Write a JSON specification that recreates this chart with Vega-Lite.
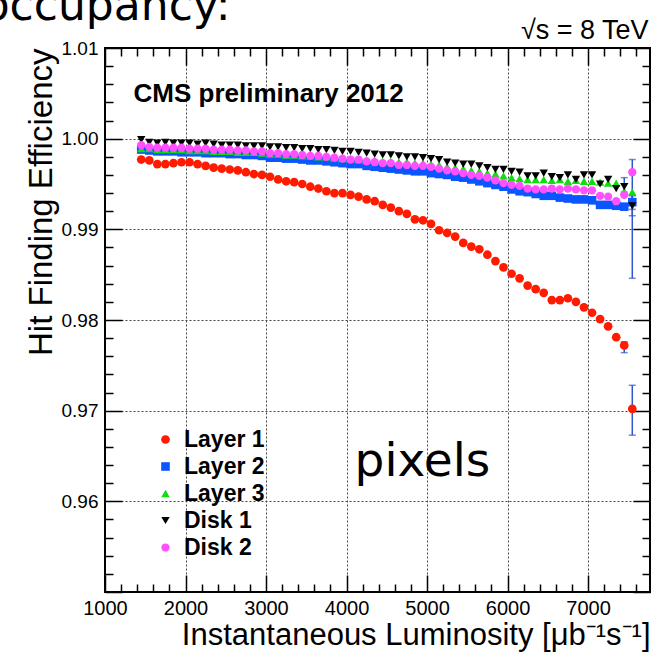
{
  "$schema": "https://vega.github.io/schema/vega-lite/v6.json",
  "width": 545,
  "height": 544,
  "autosize": {"type": "none"},
  "padding": {"left": 105, "top": 48, "right": 6, "bottom": 62},
  "background": "white",
  "config": {
    "view": {"stroke": "black", "strokeWidth": 2},
    "font": "Liberation Sans",
    "axis": {"domain": false, "tickColor": "black", "tickWidth": 1.5, "labelColor": "black", "titleColor": "black", "labelFont": "Liberation Sans", "titleFont": "Liberation Sans"}
  },
  "datasets": {
    "eff": [
      {"s":"Layer 1","x":1450,"e":0.9977},{"s":"Layer 1","x":1550,"e":0.9976},{"s":"Layer 1","x":1650,"e":0.9972},{"s":"Layer 1","x":1750,"e":0.9972},{"s":"Layer 1","x":1850,"e":0.9973},{"s":"Layer 1","x":1950,"e":0.9974},{"s":"Layer 1","x":2050,"e":0.9974},{"s":"Layer 1","x":2150,"e":0.9972},{"s":"Layer 1","x":2250,"e":0.9970},{"s":"Layer 1","x":2350,"e":0.9968},
      {"s":"Layer 1","x":2450,"e":0.9967},{"s":"Layer 1","x":2550,"e":0.9966},{"s":"Layer 1","x":2650,"e":0.9965},{"s":"Layer 1","x":2750,"e":0.9963},{"s":"Layer 1","x":2850,"e":0.9961},{"s":"Layer 1","x":2950,"e":0.9960},{"s":"Layer 1","x":3050,"e":0.9958},{"s":"Layer 1","x":3150,"e":0.9955},{"s":"Layer 1","x":3250,"e":0.9953},{"s":"Layer 1","x":3350,"e":0.9952},
      {"s":"Layer 1","x":3450,"e":0.9950},{"s":"Layer 1","x":3550,"e":0.9947},{"s":"Layer 1","x":3650,"e":0.9945},{"s":"Layer 1","x":3750,"e":0.9942},{"s":"Layer 1","x":3850,"e":0.9940},{"s":"Layer 1","x":3950,"e":0.9940},{"s":"Layer 1","x":4050,"e":0.9938},{"s":"Layer 1","x":4150,"e":0.9936},{"s":"Layer 1","x":4250,"e":0.9933},{"s":"Layer 1","x":4350,"e":0.9931},
      {"s":"Layer 1","x":4450,"e":0.9927},{"s":"Layer 1","x":4550,"e":0.9924},{"s":"Layer 1","x":4650,"e":0.9920},{"s":"Layer 1","x":4750,"e":0.9917},{"s":"Layer 1","x":4850,"e":0.9911},{"s":"Layer 1","x":4950,"e":0.9910},{"s":"Layer 1","x":5050,"e":0.9906},{"s":"Layer 1","x":5150,"e":0.9899},{"s":"Layer 1","x":5250,"e":0.9896},{"s":"Layer 1","x":5350,"e":0.9892},
      {"s":"Layer 1","x":5450,"e":0.9885},{"s":"Layer 1","x":5550,"e":0.9881},{"s":"Layer 1","x":5650,"e":0.9878},{"s":"Layer 1","x":5750,"e":0.9872},{"s":"Layer 1","x":5850,"e":0.9865},{"s":"Layer 1","x":5950,"e":0.9858},{"s":"Layer 1","x":6050,"e":0.9851},{"s":"Layer 1","x":6150,"e":0.9846},{"s":"Layer 1","x":6250,"e":0.9838},{"s":"Layer 1","x":6350,"e":0.9834},
      {"s":"Layer 1","x":6450,"e":0.9830},{"s":"Layer 1","x":6550,"e":0.9822},{"s":"Layer 1","x":6650,"e":0.9822},{"s":"Layer 1","x":6750,"e":0.9824},{"s":"Layer 1","x":6850,"e":0.9820},{"s":"Layer 1","x":6950,"e":0.9814},{"s":"Layer 1","x":7050,"e":0.9808},{"s":"Layer 1","x":7150,"e":0.9801},{"s":"Layer 1","x":7250,"e":0.9793},{"s":"Layer 1","x":7350,"e":0.9781},
      {"s":"Layer 1","x":7450,"e":0.9772},{"s":"Layer 1","x":7550,"e":0.9702},

      {"s":"Layer 2","x":1450,"e":0.9988},{"s":"Layer 2","x":1550,"e":0.9987},{"s":"Layer 2","x":1650,"e":0.9986},{"s":"Layer 2","x":1750,"e":0.9986},{"s":"Layer 2","x":1850,"e":0.9986},{"s":"Layer 2","x":1950,"e":0.9985},{"s":"Layer 2","x":2050,"e":0.9985},{"s":"Layer 2","x":2150,"e":0.9985},{"s":"Layer 2","x":2250,"e":0.9984},{"s":"Layer 2","x":2350,"e":0.9984},
      {"s":"Layer 2","x":2450,"e":0.9984},{"s":"Layer 2","x":2550,"e":0.9983},{"s":"Layer 2","x":2650,"e":0.9983},{"s":"Layer 2","x":2750,"e":0.9982},{"s":"Layer 2","x":2850,"e":0.9982},{"s":"Layer 2","x":2950,"e":0.9981},{"s":"Layer 2","x":3050,"e":0.9979},{"s":"Layer 2","x":3150,"e":0.9979},{"s":"Layer 2","x":3250,"e":0.9978},{"s":"Layer 2","x":3350,"e":0.9978},
      {"s":"Layer 2","x":3450,"e":0.9977},{"s":"Layer 2","x":3550,"e":0.9976},{"s":"Layer 2","x":3650,"e":0.9976},{"s":"Layer 2","x":3750,"e":0.9975},{"s":"Layer 2","x":3850,"e":0.9974},{"s":"Layer 2","x":3950,"e":0.9973},{"s":"Layer 2","x":4050,"e":0.9972},{"s":"Layer 2","x":4150,"e":0.9972},{"s":"Layer 2","x":4250,"e":0.9970},{"s":"Layer 2","x":4350,"e":0.9969},
      {"s":"Layer 2","x":4450,"e":0.9968},{"s":"Layer 2","x":4550,"e":0.9967},{"s":"Layer 2","x":4650,"e":0.9966},{"s":"Layer 2","x":4750,"e":0.9965},{"s":"Layer 2","x":4850,"e":0.9964},{"s":"Layer 2","x":4950,"e":0.9964},{"s":"Layer 2","x":5050,"e":0.9962},{"s":"Layer 2","x":5150,"e":0.9961},{"s":"Layer 2","x":5250,"e":0.9960},{"s":"Layer 2","x":5350,"e":0.9958},
      {"s":"Layer 2","x":5450,"e":0.9957},{"s":"Layer 2","x":5550,"e":0.9955},{"s":"Layer 2","x":5650,"e":0.9953},{"s":"Layer 2","x":5750,"e":0.9951},{"s":"Layer 2","x":5850,"e":0.9949},{"s":"Layer 2","x":5950,"e":0.9947},{"s":"Layer 2","x":6050,"e":0.9944},{"s":"Layer 2","x":6150,"e":0.9942},{"s":"Layer 2","x":6250,"e":0.9941},{"s":"Layer 2","x":6350,"e":0.9939},
      {"s":"Layer 2","x":6450,"e":0.9937},{"s":"Layer 2","x":6550,"e":0.9937},{"s":"Layer 2","x":6650,"e":0.9935},{"s":"Layer 2","x":6750,"e":0.9934},{"s":"Layer 2","x":6850,"e":0.9933},{"s":"Layer 2","x":6950,"e":0.9933},{"s":"Layer 2","x":7050,"e":0.9932},{"s":"Layer 2","x":7150,"e":0.9927},{"s":"Layer 2","x":7250,"e":0.9927},{"s":"Layer 2","x":7350,"e":0.9926},
      {"s":"Layer 2","x":7450,"e":0.9925},{"s":"Layer 2","x":7550,"e":0.9930},

      {"s":"Layer 3","x":1450,"e":0.9989},{"s":"Layer 3","x":1550,"e":0.9989},{"s":"Layer 3","x":1650,"e":0.9988},{"s":"Layer 3","x":1750,"e":0.9988},{"s":"Layer 3","x":1850,"e":0.9988},{"s":"Layer 3","x":1950,"e":0.9988},{"s":"Layer 3","x":2050,"e":0.9987},{"s":"Layer 3","x":2150,"e":0.9987},{"s":"Layer 3","x":2250,"e":0.9987},{"s":"Layer 3","x":2350,"e":0.9986},
      {"s":"Layer 3","x":2450,"e":0.9986},{"s":"Layer 3","x":2550,"e":0.9986},{"s":"Layer 3","x":2650,"e":0.9985},{"s":"Layer 3","x":2750,"e":0.9985},{"s":"Layer 3","x":2850,"e":0.9985},{"s":"Layer 3","x":2950,"e":0.9984},{"s":"Layer 3","x":3050,"e":0.9983},{"s":"Layer 3","x":3150,"e":0.9983},{"s":"Layer 3","x":3250,"e":0.9982},{"s":"Layer 3","x":3350,"e":0.9982},
      {"s":"Layer 3","x":3450,"e":0.9981},{"s":"Layer 3","x":3550,"e":0.9981},{"s":"Layer 3","x":3650,"e":0.9980},{"s":"Layer 3","x":3750,"e":0.9980},{"s":"Layer 3","x":3850,"e":0.9979},{"s":"Layer 3","x":3950,"e":0.9978},{"s":"Layer 3","x":4050,"e":0.9978},{"s":"Layer 3","x":4150,"e":0.9977},{"s":"Layer 3","x":4250,"e":0.9976},{"s":"Layer 3","x":4350,"e":0.9976},
      {"s":"Layer 3","x":4450,"e":0.9975},{"s":"Layer 3","x":4550,"e":0.9975},{"s":"Layer 3","x":4650,"e":0.9974},{"s":"Layer 3","x":4750,"e":0.9974},{"s":"Layer 3","x":4850,"e":0.9973},{"s":"Layer 3","x":4950,"e":0.9973},{"s":"Layer 3","x":5050,"e":0.9972},{"s":"Layer 3","x":5150,"e":0.9971},{"s":"Layer 3","x":5250,"e":0.9969},{"s":"Layer 3","x":5350,"e":0.9968},
      {"s":"Layer 3","x":5450,"e":0.9967},{"s":"Layer 3","x":5550,"e":0.9965},{"s":"Layer 3","x":5650,"e":0.9964},{"s":"Layer 3","x":5750,"e":0.9962},{"s":"Layer 3","x":5850,"e":0.9961},{"s":"Layer 3","x":5950,"e":0.9959},{"s":"Layer 3","x":6050,"e":0.9957},{"s":"Layer 3","x":6150,"e":0.9956},{"s":"Layer 3","x":6250,"e":0.9955},{"s":"Layer 3","x":6350,"e":0.9955},
      {"s":"Layer 3","x":6450,"e":0.9955},{"s":"Layer 3","x":6550,"e":0.9954},{"s":"Layer 3","x":6650,"e":0.9955},{"s":"Layer 3","x":6750,"e":0.9953},{"s":"Layer 3","x":6850,"e":0.9954},{"s":"Layer 3","x":6950,"e":0.9953},{"s":"Layer 3","x":7050,"e":0.9953},{"s":"Layer 3","x":7150,"e":0.9952},{"s":"Layer 3","x":7250,"e":0.9951},{"s":"Layer 3","x":7350,"e":0.9951},
      {"s":"Layer 3","x":7450,"e":0.9942},{"s":"Layer 3","x":7550,"e":0.9941},

      {"s":"Disk 1","x":1450,"e":0.9999},{"s":"Disk 1","x":1550,"e":0.9996},{"s":"Disk 1","x":1650,"e":0.9995},{"s":"Disk 1","x":1750,"e":0.9996},{"s":"Disk 1","x":1850,"e":0.9995},{"s":"Disk 1","x":1950,"e":0.9995},{"s":"Disk 1","x":2050,"e":0.9995},{"s":"Disk 1","x":2150,"e":0.9994},{"s":"Disk 1","x":2250,"e":0.9995},{"s":"Disk 1","x":2350,"e":0.9994},
      {"s":"Disk 1","x":2450,"e":0.9993},{"s":"Disk 1","x":2550,"e":0.9993},{"s":"Disk 1","x":2650,"e":0.9993},{"s":"Disk 1","x":2750,"e":0.9992},{"s":"Disk 1","x":2850,"e":0.9992},{"s":"Disk 1","x":2950,"e":0.9992},{"s":"Disk 1","x":3050,"e":0.9991},{"s":"Disk 1","x":3150,"e":0.9991},{"s":"Disk 1","x":3250,"e":0.9990},{"s":"Disk 1","x":3350,"e":0.9990},
      {"s":"Disk 1","x":3450,"e":0.9989},{"s":"Disk 1","x":3550,"e":0.9989},{"s":"Disk 1","x":3650,"e":0.9988},{"s":"Disk 1","x":3750,"e":0.9988},{"s":"Disk 1","x":3850,"e":0.9987},{"s":"Disk 1","x":3950,"e":0.9986},{"s":"Disk 1","x":4050,"e":0.9986},{"s":"Disk 1","x":4150,"e":0.9985},{"s":"Disk 1","x":4250,"e":0.9984},{"s":"Disk 1","x":4350,"e":0.9983},
      {"s":"Disk 1","x":4450,"e":0.9982},{"s":"Disk 1","x":4550,"e":0.9982},{"s":"Disk 1","x":4650,"e":0.9981},{"s":"Disk 1","x":4750,"e":0.9980},{"s":"Disk 1","x":4850,"e":0.9980},{"s":"Disk 1","x":4950,"e":0.9979},{"s":"Disk 1","x":5050,"e":0.9978},{"s":"Disk 1","x":5150,"e":0.9977},{"s":"Disk 1","x":5250,"e":0.9974},{"s":"Disk 1","x":5350,"e":0.9973},
      {"s":"Disk 1","x":5450,"e":0.9972},{"s":"Disk 1","x":5550,"e":0.9972},{"s":"Disk 1","x":5650,"e":0.9970},{"s":"Disk 1","x":5750,"e":0.9968},{"s":"Disk 1","x":5850,"e":0.9966},{"s":"Disk 1","x":5950,"e":0.9966},{"s":"Disk 1","x":6050,"e":0.9964},{"s":"Disk 1","x":6150,"e":0.9963},{"s":"Disk 1","x":6250,"e":0.9959},{"s":"Disk 1","x":6350,"e":0.9959},
      {"s":"Disk 1","x":6450,"e":0.9962},{"s":"Disk 1","x":6550,"e":0.9958},{"s":"Disk 1","x":6650,"e":0.9957},{"s":"Disk 1","x":6750,"e":0.9960},{"s":"Disk 1","x":6850,"e":0.9955},{"s":"Disk 1","x":6950,"e":0.9960},{"s":"Disk 1","x":7050,"e":0.9960},{"s":"Disk 1","x":7150,"e":0.9950},{"s":"Disk 1","x":7250,"e":0.9955},{"s":"Disk 1","x":7350,"e":0.9945},
      {"s":"Disk 1","x":7450,"e":0.9947},{"s":"Disk 1","x":7550,"e":0.9926},

      {"s":"Disk 2","x":1450,"e":0.9993},{"s":"Disk 2","x":1550,"e":0.9991},{"s":"Disk 2","x":1650,"e":0.9990},{"s":"Disk 2","x":1750,"e":0.9990},{"s":"Disk 2","x":1850,"e":0.9990},{"s":"Disk 2","x":1950,"e":0.9990},{"s":"Disk 2","x":2050,"e":0.9989},{"s":"Disk 2","x":2150,"e":0.9989},{"s":"Disk 2","x":2250,"e":0.9989},{"s":"Disk 2","x":2350,"e":0.9988},
      {"s":"Disk 2","x":2450,"e":0.9988},{"s":"Disk 2","x":2550,"e":0.9988},{"s":"Disk 2","x":2650,"e":0.9987},{"s":"Disk 2","x":2750,"e":0.9987},{"s":"Disk 2","x":2850,"e":0.9986},{"s":"Disk 2","x":2950,"e":0.9986},{"s":"Disk 2","x":3050,"e":0.9984},{"s":"Disk 2","x":3150,"e":0.9984},{"s":"Disk 2","x":3250,"e":0.9983},{"s":"Disk 2","x":3350,"e":0.9983},
      {"s":"Disk 2","x":3450,"e":0.9982},{"s":"Disk 2","x":3550,"e":0.9981},{"s":"Disk 2","x":3650,"e":0.9981},{"s":"Disk 2","x":3750,"e":0.9980},{"s":"Disk 2","x":3850,"e":0.9979},{"s":"Disk 2","x":3950,"e":0.9978},{"s":"Disk 2","x":4050,"e":0.9977},{"s":"Disk 2","x":4150,"e":0.9977},{"s":"Disk 2","x":4250,"e":0.9975},{"s":"Disk 2","x":4350,"e":0.9974},
      {"s":"Disk 2","x":4450,"e":0.9973},{"s":"Disk 2","x":4550,"e":0.9973},{"s":"Disk 2","x":4650,"e":0.9971},{"s":"Disk 2","x":4750,"e":0.9971},{"s":"Disk 2","x":4850,"e":0.9970},{"s":"Disk 2","x":4950,"e":0.9970},{"s":"Disk 2","x":5050,"e":0.9969},{"s":"Disk 2","x":5150,"e":0.9967},{"s":"Disk 2","x":5250,"e":0.9965},{"s":"Disk 2","x":5350,"e":0.9964},
      {"s":"Disk 2","x":5450,"e":0.9962},{"s":"Disk 2","x":5550,"e":0.9960},{"s":"Disk 2","x":5650,"e":0.9959},{"s":"Disk 2","x":5750,"e":0.9957},{"s":"Disk 2","x":5850,"e":0.9954},{"s":"Disk 2","x":5950,"e":0.9951},{"s":"Disk 2","x":6050,"e":0.9949},{"s":"Disk 2","x":6150,"e":0.9948},{"s":"Disk 2","x":6250,"e":0.9945},{"s":"Disk 2","x":6350,"e":0.9944},
      {"s":"Disk 2","x":6450,"e":0.9944},{"s":"Disk 2","x":6550,"e":0.9945},{"s":"Disk 2","x":6650,"e":0.9944},{"s":"Disk 2","x":6750,"e":0.9945},{"s":"Disk 2","x":6850,"e":0.9944},{"s":"Disk 2","x":6950,"e":0.9943},{"s":"Disk 2","x":7050,"e":0.9943},{"s":"Disk 2","x":7150,"e":0.9937},{"s":"Disk 2","x":7250,"e":0.9936},{"s":"Disk 2","x":7350,"e":0.9931},
      {"s":"Disk 2","x":7450,"e":0.9938},{"s":"Disk 2","x":7550,"e":0.9963}
    ],
    "err": [
      {"s":"Layer 1","x":7450,"lo":0.9764,"hi":0.9776},
      {"s":"Layer 1","x":7550,"lo":0.9673,"hi":0.9728},
      {"s":"Layer 2","x":7550,"lo":0.9922,"hi":0.9937},
      {"s":"Disk 1","x":7450,"lo":0.9941,"hi":0.9957},
      {"s":"Disk 1","x":7550,"lo":0.9915,"hi":0.9938},
      {"s":"Disk 2","x":7550,"lo":0.9846,"hi":0.9977}
    ]
  },
  "layer": [
    {
      "data": {"name": "err"},
      "mark": {"type": "errorbar", "color": "#3355cc", "thickness": 1.5, "ticks": {"size": 7, "thickness": 1.5}},
      "encoding": {
        "x": {"field": "x", "type": "quantitative", "axis": null},
        "y": {"field": "lo", "type": "quantitative", "axis": null},
        "y2": {"field": "hi"}
      }
    },
    {
      "data": {"name": "eff"},
      "mark": {"type": "point", "filled": true, "opacity": 1},
      "encoding": {
        "x": {
          "field": "x", "type": "quantitative",
          "scale": {"domain": [1000, 7770], "nice": false, "zero": false},
          "axis": {
            "orient": "bottom",
            "title": "Instantaneous Luminosity [μb⁻¹s⁻¹]",
            "values": [1000,1200,1400,1600,1800,2000,2200,2400,2600,2800,3000,3200,3400,3600,3800,4000,4200,4400,4600,4800,5000,5200,5400,5600,5800,6000,6200,6400,6600,6800,7000,7200,7400,7600],
            "labelExpr": "datum.value % 1000 === 0 ? format(datum.value, 'd') : ''",
            "tickSize": {"condition": {"test": "datum.value % 1000 === 0", "value": -17}, "value": -8},
            "grid": true,
            "gridColor": {"condition": {"test": "datum.value % 1000 === 0 && datum.value > 1000", "value": "#444444"}, "value": "transparent"},
            "gridDash": [2, 2], "gridWidth": 1, "gridOpacity": 1,
            "labelFontSize": 20, "labelPadding": 23, "labelFlush": false, "labelOverlap": false,
            "titleFontSize": 31, "titleFontWeight": "normal", "titleAnchor": "end", "titlePadding": -7
          }
        },
        "y": {
          "field": "e", "type": "quantitative",
          "scale": {"domain": [0.95, 1.01], "nice": false, "zero": false},
          "axis": {
            "orient": "left",
            "title": "Hit Finding Efficiency",
            "values": [0.95,0.952,0.954,0.956,0.958,0.96,0.962,0.964,0.966,0.968,0.97,0.972,0.974,0.976,0.978,0.98,0.982,0.984,0.986,0.988,0.99,0.992,0.994,0.996,0.998,1,1.002,1.004,1.006,1.008,1.01],
            "labelExpr": "abs(datum.value * 100 - round(datum.value * 100)) < 0.001 && datum.value > 0.955 ? format(datum.value, '.2f') : ''",
            "tickSize": {"condition": {"test": "abs(datum.value * 100 - round(datum.value * 100)) < 0.001", "value": -17}, "value": -8},
            "grid": true,
            "gridColor": {"condition": {"test": "abs(datum.value * 100 - round(datum.value * 100)) < 0.001 && datum.value > 0.955 && datum.value < 1.005", "value": "#444444"}, "value": "transparent"},
            "gridDash": [2, 2], "gridWidth": 1, "gridOpacity": 1,
            "labelFontSize": 19, "labelPadding": 24, "labelFlush": false, "labelOverlap": false,
            "titleFontSize": 33, "titleFontWeight": "normal", "titleAnchor": "end", "titlePadding": 3
          }
        },
        "color": {
          "field": "s", "type": "nominal",
          "scale": {"domain": ["Layer 1", "Layer 2", "Layer 3", "Disk 1", "Disk 2"], "range": ["#ff1a00", "#0a55ff", "#10dd10", "#000000", "#ff50ff"]},
          "legend": {
            "orient": "none", "legendX": 49, "legendY": 380, "title": null, "padding": 0,
            "labelFontSize": 23, "labelFontWeight": "bold", "labelFont": "Liberation Sans", "labelColor": "black",
            "symbolSize": 55, "rowPadding": 3, "labelOffset": 7, "symbolStrokeWidth": 0, "symbolOpacity": 1
          }
        },
        "shape": {
          "field": "s", "type": "nominal",
          "scale": {"domain": ["Layer 1", "Layer 2", "Layer 3", "Disk 1", "Disk 2"], "range": ["circle", "square", "triangle-up", "triangle-down", "circle"]}
        },
        "size": {
          "field": "s", "type": "nominal",
          "scale": {"domain": ["Layer 1", "Layer 2", "Layer 3", "Disk 1", "Disk 2"], "range": [76, 68, 105, 105, 76]},
          "legend": null
        }
      }
    },
    {
      "data": {"values": [{}]},
      "mark": {"type": "text", "text": "CMS preliminary 2012", "align": "left", "baseline": "alphabetic", "font": "Liberation Sans", "fontSize": 26, "fontWeight": "bold", "color": "black"},
      "encoding": {
        "x": {
          "datum": 1354, "type": "quantitative",
          "axis": {
            "orient": "top", "title": null, "labels": false, "grid": false,
            "values": [1000,1200,1400,1600,1800,2000,2200,2400,2600,2800,3000,3200,3400,3600,3800,4000,4200,4400,4600,4800,5000,5200,5400,5600,5800,6000,6200,6400,6600,6800,7000,7200,7400,7600],
            "tickSize": {"condition": {"test": "datum.value % 1000 === 0", "value": -17}, "value": -8}
          }
        },
        "y": {
          "datum": 1.0040, "type": "quantitative",
          "axis": {
            "orient": "right", "title": null, "labels": false, "grid": false,
            "values": [0.95,0.952,0.954,0.956,0.958,0.96,0.962,0.964,0.966,0.968,0.97,0.972,0.974,0.976,0.978,0.98,0.982,0.984,0.986,0.988,0.99,0.992,0.994,0.996,0.998,1,1.002,1.004,1.006,1.008,1.01],
            "tickSize": {"condition": {"test": "abs(datum.value * 100 - round(datum.value * 100)) < 0.001", "value": -17}, "value": -8}
          }
        }
      }
    },
    {
      "data": {"values": [{}]},
      "mark": {"type": "text", "text": "pixels", "align": "left", "baseline": "alphabetic", "font": "DejaVu Sans", "fontSize": 47, "color": "black"},
      "encoding": {
        "x": {"datum": 4100, "type": "quantitative", "axis": null},
        "y": {"datum": 0.9628, "type": "quantitative", "axis": null}
      }
    },
    {
      "data": {"values": [{}]},
      "mark": {"type": "text", "text": "√s = 8 TeV", "align": "right", "baseline": "alphabetic", "font": "Liberation Sans", "fontSize": 27, "color": "black"},
      "encoding": {
        "x": {"datum": 7752, "type": "quantitative", "axis": null},
        "y": {"datum": 1.0110, "type": "quantitative", "axis": null}
      }
    },
    {
      "data": {"values": [{}]},
      "mark": {"type": "text", "text": "occupancy:", "align": "right", "baseline": "alphabetic", "font": "DejaVu Sans", "fontSize": 44, "color": "black"},
      "encoding": {
        "x": {"datum": 2559, "type": "quantitative", "axis": null},
        "y": {"datum": 1.0131, "type": "quantitative", "axis": null}
      }
    }
  ],
  "resolve": {"axis": {"x": "independent", "y": "independent"}}
}
